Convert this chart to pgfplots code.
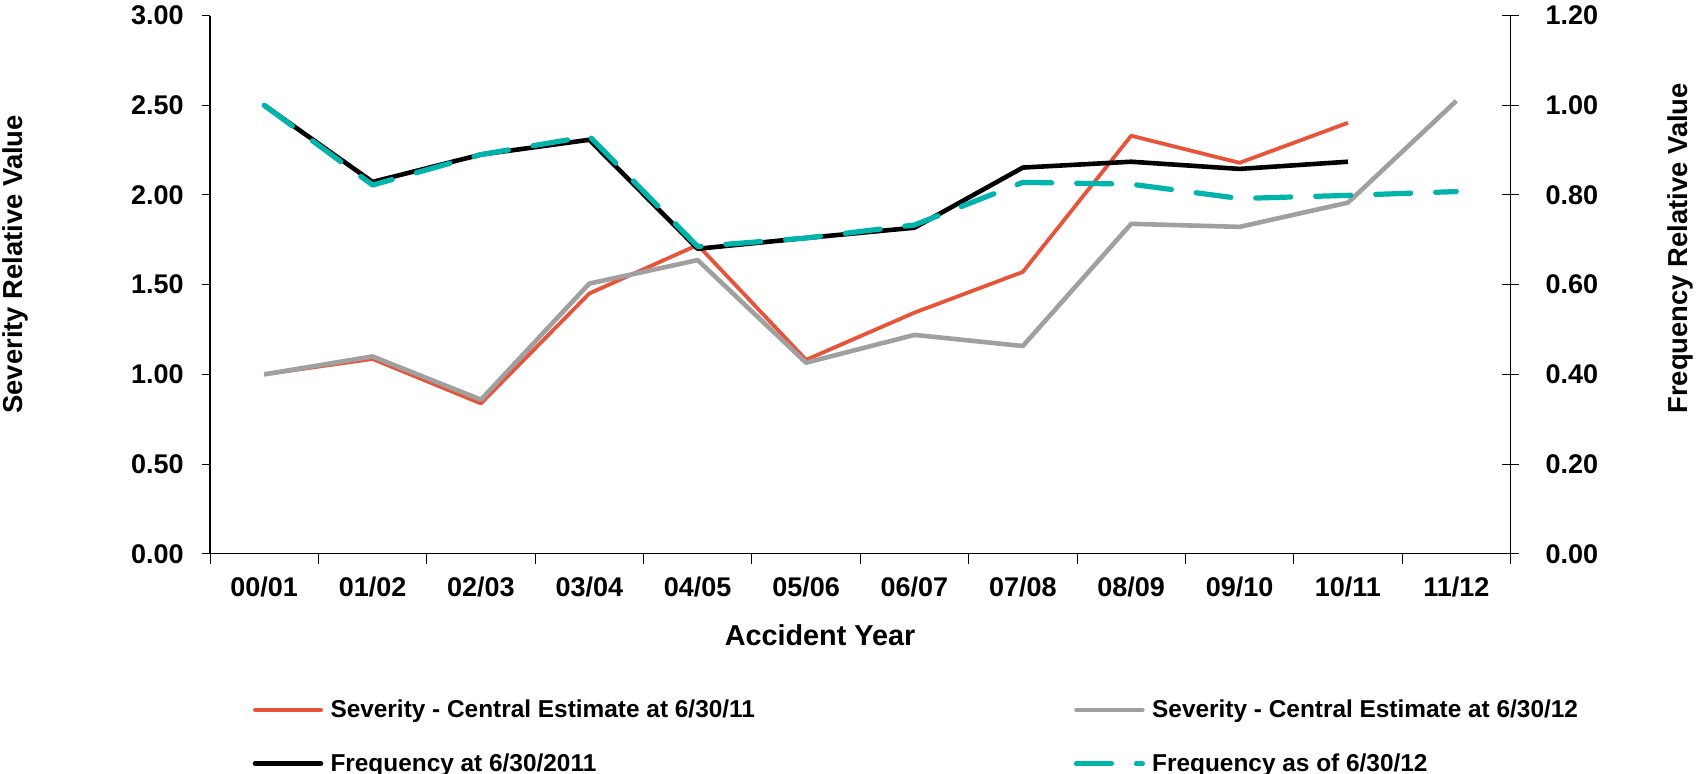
\documentclass[border=0pt]{standalone}
\usepackage{fontspec}
\setmainfont{Liberation Sans}
\usepackage{pgfplots}
\pgfplotsset{compat=1.18}

\definecolor{sevA}{HTML}{E8543A}
\definecolor{sevB}{HTML}{A0A0A0}
\definecolor{freqB}{HTML}{00B4AC}

\newcommand{\tickfont}{\fontsize{13.5}{16}\selectfont\bfseries}
\newcommand{\legfont}{\fontsize{12.2}{14}\selectfont\bfseries}
\newcommand{\labfont}{\fontsize{13.7}{16}\selectfont\bfseries}

\pgfplotsset{
  common/.style={
    at={(105pt,109.6pt)}, anchor=south west,
    scale only axis, width=650.25pt, height=269.15pt,
    xmin=-0.5, xmax=11.5,
    axis line style={line width=0.6pt, black, -},
    /pgf/number format/assume math mode=true,
    ticklabel style={font=\tickfont},
    tick style={line width=0.5pt, black},
  },
}

\begin{document}
\begin{tikzpicture}
\useasboundingbox (0pt,0pt) rectangle (848pt,386.5pt);

% Severity (left axis)
\begin{axis}[common,
  ymin=0, ymax=3,
  ytick={0,0.5,1,1.5,2,2.5,3},
  axis x line*=bottom, axis y line*=left,
  tick align=outside,
  major tick length=4pt,
  minor tick length=5pt,
  xtick={0,...,11},
  xticklabels={00/01,01/02,02/03,03/04,04/05,05/06,06/07,07/08,08/09,09/10,10/11,11/12},
  minor xtick={-0.5,0.5,1.5,2.5,3.5,4.5,5.5,6.5,7.5,8.5,9.5,10.5,11.5},
  every major x tick/.append style={draw=none},
  xticklabel style={anchor=north, inner sep=0pt},
  xticklabel shift=7.35pt,
  yticklabel style={anchor=east, inner sep=0pt,
    /pgf/number format/fixed, /pgf/number format/fixed zerofill,
    /pgf/number format/precision=2},
  yticklabel shift=9pt,
  legend columns=2,
  legend cell align=left,
  legend image code/.code={\draw[#1, line cap=round] (0pt,0pt) -- (33pt,0pt);},
  legend style={at={(0.03283,-0.26843)}, anchor=north west,
    draw=none, fill=none, inner sep=0pt, outer sep=0pt,
    column sep=0pt, row sep=15.15pt,
    nodes={inner sep=0pt, text height=9.5pt, text depth=2.2pt, font=\legfont},
    /tikz/every odd column/.append style={column sep=3.6pt}},
]
\addplot[sevA, line width=1.9pt, line join=round] coordinates {
  (0,1.000) (1,1.086) (2,0.838) (3,1.451) (4,1.721) (5,1.081)
  (6,1.344) (7,1.571) (8,2.330) (9,2.179) (10,2.402)};
\addlegendentry{\makebox[371.65pt][l]{Severity - Central Estimate at 6/30/11}}
\addplot[sevB, line width=2.3pt, line join=round] coordinates {
  (0,1.000) (1,1.100) (2,0.859) (3,1.506) (4,1.637) (5,1.065)
  (6,1.220) (7,1.158) (8,1.839) (9,1.822) (10,1.957) (11,2.524)};
\addlegendentry{Severity - Central Estimate at 6/30/12}
\addlegendimage{black, line width=2.3pt}
\addlegendentry{\makebox[371.65pt][l]{Frequency at 6/30/2011}}
\addlegendimage{freqB, line width=2.6pt, dash pattern=on 17.5pt off 12.5pt}
\addlegendentry{Frequency as of 6/30/12}
\end{axis}

% Frequency (right axis)
\begin{axis}[common,
  ymin=0, ymax=1.2,
  ytick={0,0.2,0.4,0.6,0.8,1.0,1.2},
  axis x line=none, axis y line*=right,
  tick align=center,
  major tick length=8.5pt,
  yticklabel style={anchor=west, inner sep=0pt,
    /pgf/number format/fixed, /pgf/number format/fixed zerofill,
    /pgf/number format/precision=2},
  yticklabel shift=13.1pt,
]
\addplot[black, line width=2.3pt, line join=round] coordinates {
  (0,1.000) (1,0.829) (2,0.890) (3,0.923) (4,0.680) (5,0.704)
  (6,0.727) (7,0.861) (8,0.874) (9,0.858) (10,0.874)};
\addplot[freqB, line width=2.6pt, line join=round, line cap=round,
  dash pattern=on 17.5pt off 12.5pt] coordinates {
  (0,1.000) (1,0.822) (2,0.890) (3,0.931) (4,0.685) (5,0.704)
  (6,0.733) (7,0.828) (8,0.824) (9,0.792) (10,0.799) (11,0.8075)};
\end{axis}

\node[rotate=90, anchor=base west, inner sep=0pt, font=\labfont]
  at (11.5pt,179.5pt) {Severity Relative Value};
\node[rotate=90, anchor=base west, inner sep=0pt, font=\labfont]
  at (843.5pt,179.5pt) {Frequency Relative Value};
\node[anchor=base, inner sep=0pt, font=\fontsize{14.4}{17}\selectfont\bfseries]
  at (410pt,64pt) {Accident Year};
\end{tikzpicture}
\end{document}
